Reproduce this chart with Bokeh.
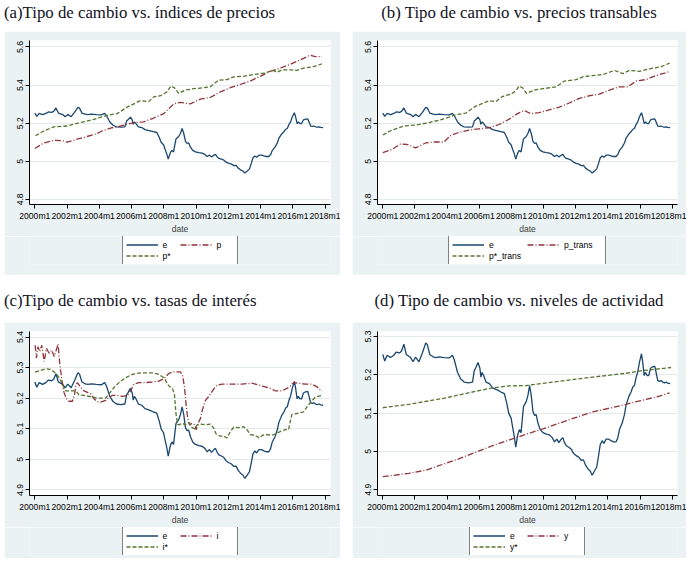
from bokeh.plotting import figure
from bokeh.layouts import column, row
from bokeh.models import Legend, LegendItem, FixedTicker, NumeralTickFormatter, Spacer, Div
from bokeh.embed import file_html
from bokeh.resources import INLINE

# ---------------- data ----------------
x_ticks = [2000, 2002, 2004, 2006, 2008, 2010, 2012, 2014, 2016, 2018]
x_tick_labels = ["2000m1", "2002m1", "2004m1", "2006m1", "2008m1",
                 "2010m1", "2012m1", "2014m1", "2016m1", "2018m1"]

e_dates = [2000.0, 2000.12, 2000.27, 2000.48, 2000.69, 2000.83, 2001.04, 2001.17, 2001.31, 2001.46,
           2001.73, 2001.88, 2002.04, 2002.25, 2002.46, 2002.67, 2002.77, 2002.92, 2003.13, 2003.29,
           2003.5, 2003.81, 2004.13, 2004.33, 2004.44, 2004.65, 2004.85, 2005.06, 2005.33, 2005.58,
           2005.69, 2005.79, 2005.92, 2006.04, 2006.10, 2006.17, 2006.27, 2006.42, 2006.63, 2006.83,
           2007.15, 2007.35, 2007.56, 2007.71, 2007.83, 2007.98, 2008.08, 2008.19, 2008.27, 2008.40,
           2008.50, 2008.60, 2008.75, 2008.92, 2009.03, 2009.13, 2009.23, 2009.34, 2009.44, 2009.54,
           2009.65, 2009.79, 2009.96, 2010.17, 2010.37, 2010.54, 2010.68, 2010.83, 2010.95, 2011.10,
           2011.20, 2011.30, 2011.41, 2011.57, 2011.72, 2011.86, 2012.03, 2012.19, 2012.34, 2012.48,
           2012.61, 2012.75, 2012.90, 2013.02, 2013.17, 2013.31, 2013.44, 2013.52, 2013.64, 2013.75,
           2013.89, 2014.06, 2014.20, 2014.35, 2014.51, 2014.62, 2014.72, 2014.89, 2015.03, 2015.13,
           2015.30, 2015.44, 2015.55, 2015.65, 2015.76, 2015.86, 2015.96, 2016.09, 2016.17, 2016.26,
           2016.34, 2016.44, 2016.54, 2016.65, 2016.79, 2016.92, 2017.00, 2017.10, 2017.20, 2017.31,
           2017.41, 2017.52, 2017.62, 2017.72, 2017.87]
e_values = [5.253, 5.236, 5.251, 5.245, 5.251, 5.259, 5.257, 5.262, 5.280, 5.253,
            5.245, 5.234, 5.246, 5.234, 5.257, 5.283, 5.279, 5.253, 5.247, 5.245,
            5.247, 5.245, 5.244, 5.251, 5.240, 5.206, 5.189, 5.181, 5.179, 5.181,
            5.211, 5.219, 5.232, 5.217, 5.194, 5.206, 5.198, 5.181, 5.177, 5.166,
            5.160, 5.155, 5.151, 5.126, 5.100, 5.087, 5.062, 5.036, 5.011, 5.045,
            5.057, 5.049, 5.117, 5.130, 5.147, 5.172, 5.147, 5.104, 5.094, 5.096,
            5.074, 5.057, 5.049, 5.045, 5.043, 5.036, 5.025, 5.032, 5.023, 5.032,
            5.036, 5.023, 5.015, 5.011, 5.006, 4.995, 4.989, 4.985, 4.977, 4.978,
            4.964, 4.955, 4.949, 4.938, 4.949, 4.960, 4.994, 5.017, 5.028, 5.021,
            5.032, 5.032, 5.028, 5.025, 5.025, 5.036, 5.057, 5.074, 5.096, 5.121,
            5.143, 5.155, 5.168, 5.172, 5.194, 5.208, 5.232, 5.255, 5.232, 5.198,
            5.206, 5.198, 5.198, 5.217, 5.221, 5.222, 5.206, 5.185, 5.183, 5.185,
            5.181, 5.179, 5.181, 5.178, 5.177]

p_dates = [2000.0, 2000.56, 2001.18, 2001.69, 2002.0, 2002.62, 2003.24, 2003.76, 2004.17, 2004.79,
           2005.1, 2006.13, 2006.75, 2007.37, 2007.99, 2008.61, 2009.02, 2009.64, 2010.26, 2010.88,
           2011.5, 2012.12, 2012.73, 2013.35, 2013.97, 2014.59, 2015.21, 2015.83, 2016.45, 2017.07,
           2017.38, 2017.79]
p_values = [5.067, 5.096, 5.110, 5.108, 5.100, 5.116, 5.130, 5.142, 5.159, 5.176,
            5.181, 5.203, 5.207, 5.227, 5.250, 5.301, 5.309, 5.301, 5.326, 5.335,
            5.364, 5.386, 5.403, 5.421, 5.446, 5.472, 5.489, 5.509, 5.532, 5.557,
            5.549, 5.549]

pstar_dates = [2000.04, 2000.56, 2001.18, 2002.0, 2002.83, 2003.65, 2004.48, 2005.1, 2005.72, 2006.54,
               2007.06, 2007.37, 2007.78, 2008.19, 2008.44, 2008.65, 2008.92, 2009.33, 2009.85, 2010.46,
               2010.88, 2011.39, 2011.91, 2012.32, 2012.94, 2013.56, 2014.18, 2014.80, 2015.0, 2015.31,
               2015.83, 2016.24, 2016.66, 2017.28, 2017.79]
pstar_values = [5.134, 5.159, 5.181, 5.185, 5.203, 5.220, 5.241, 5.250, 5.284, 5.318,
                5.313, 5.338, 5.344, 5.364, 5.395, 5.386, 5.356, 5.374, 5.381, 5.386,
                5.391, 5.426, 5.429, 5.443, 5.446, 5.455, 5.463, 5.477, 5.467, 5.480,
                5.480, 5.477, 5.489, 5.497, 5.511]

ptrans_dates = [2000.0, 2000.58, 2001.10, 2001.52, 2002.04, 2002.66, 2003.18, 2003.80, 2004.22, 2004.74,
                2005.36, 2005.99, 2006.61, 2007.23, 2007.86, 2008.38, 2008.79, 2009.21, 2009.73, 2010.35,
                2010.98, 2011.6, 2012.22, 2012.85, 2013.47, 2014.1, 2014.72, 2015.24, 2015.76, 2016.38,
                2017.0, 2017.53, 2017.88]
ptrans_values = [5.045, 5.062, 5.091, 5.088, 5.070, 5.096, 5.101, 5.101, 5.135, 5.152,
                 5.164, 5.170, 5.176, 5.193, 5.221, 5.250, 5.267, 5.250, 5.255, 5.270,
                 5.284, 5.306, 5.330, 5.344, 5.352, 5.374, 5.391, 5.391, 5.421, 5.429,
                 5.450, 5.463, 5.472]

pstartrans_dates = [2000.0, 2000.58, 2001.31, 2002.04, 2002.87, 2003.70, 2004.53, 2005.16, 2005.78, 2006.61,
                    2007.03, 2007.44, 2007.96, 2008.27, 2008.48, 2008.69, 2008.94, 2009.42, 2009.94, 2010.77,
                    2011.29, 2012.02, 2012.43, 2013.06, 2013.68, 2014.41, 2014.93, 2015.34, 2015.97, 2016.59,
                    2017.32, 2017.84]
pstartrans_values = [5.138, 5.164, 5.185, 5.190, 5.203, 5.220, 5.244, 5.253, 5.289, 5.318,
                     5.313, 5.340, 5.352, 5.369, 5.395, 5.386, 5.356, 5.374, 5.381, 5.390,
                     5.421, 5.429, 5.443, 5.450, 5.455, 5.477, 5.460, 5.477, 5.472, 5.485,
                     5.497, 5.515]

i_dates = [2000.02, 2000.10, 2000.19, 2000.31, 2000.43, 2000.58, 2000.72, 2000.89, 2001.05, 2001.20,
           2001.30, 2001.44, 2001.55, 2001.67, 2001.81, 2001.96, 2002.12, 2002.33, 2002.45, 2002.54,
           2002.64, 2002.85, 2003.05, 2003.26, 2003.46, 2003.67, 2003.88, 2004.08, 2004.39, 2004.60,
           2004.80, 2005.11, 2005.42, 2005.73, 2005.94, 2006.14, 2006.45, 2006.87, 2007.28, 2007.69,
           2008.0, 2008.31, 2008.62, 2009.03, 2009.17, 2009.28, 2009.38, 2009.48, 2009.59, 2009.75,
           2009.92, 2010.0, 2010.12, 2010.27, 2010.41, 2010.58, 2010.74, 2010.89, 2011.09, 2011.30,
           2011.61, 2012.23, 2012.84, 2013.46, 2014.08, 2014.6, 2014.91, 2015.32, 2015.73, 2016.04,
           2016.35, 2016.76, 2017.17, 2017.48, 2017.79]
i_values = [5.373, 5.331, 5.368, 5.352, 5.373, 5.320, 5.363, 5.347, 5.357, 5.336,
            5.352, 5.377, 5.310, 5.262, 5.219, 5.198, 5.190, 5.190, 5.209, 5.240,
            5.251, 5.235, 5.224, 5.219, 5.214, 5.198, 5.189, 5.187, 5.193, 5.203,
            5.209, 5.209, 5.206, 5.209, 5.224, 5.246, 5.251, 5.251, 5.253, 5.256,
            5.264, 5.281, 5.286, 5.286, 5.272, 5.235, 5.177, 5.134, 5.113, 5.118,
            5.113, 5.097, 5.118, 5.134, 5.166, 5.193, 5.203, 5.214, 5.230, 5.243,
            5.246, 5.246, 5.246, 5.249, 5.240, 5.232, 5.224, 5.224, 5.235, 5.251,
            5.249, 5.246, 5.246, 5.238, 5.221]

istar_dates = [2000.02, 2000.37, 2000.68, 2000.99, 2001.30, 2001.51, 2001.71, 2001.92, 2002.23, 2002.54,
               2002.74, 2003.05, 2003.46, 2003.88, 2004.39, 2004.60, 2004.91, 2005.22, 2005.63, 2006.04,
               2006.56, 2007.28, 2007.69, 2008.0, 2008.31, 2008.52, 2008.65, 2008.75, 2008.85, 2008.93,
               2009.13, 2009.34, 2009.54, 2009.75, 2009.92, 2010.06, 2010.27, 2010.58, 2010.89, 2011.09,
               2011.24, 2011.50, 2011.71, 2011.92, 2012.12, 2012.33, 2012.64, 2012.95, 2013.15, 2013.36,
               2013.67, 2013.92, 2014.12, 2014.39, 2014.70, 2014.91, 2015.21, 2015.52, 2015.73, 2015.83,
               2015.94, 2016.25, 2016.66, 2016.86, 2017.07, 2017.38, 2017.79]
istar_values = [5.285, 5.291, 5.296, 5.294, 5.281, 5.267, 5.246, 5.224, 5.224, 5.224,
                5.211, 5.209, 5.205, 5.200, 5.200, 5.214, 5.235, 5.251, 5.267, 5.278,
                5.283, 5.283, 5.278, 5.267, 5.240, 5.232, 5.215, 5.150, 5.115, 5.113,
                5.118, 5.113, 5.120, 5.104, 5.100, 5.113, 5.115, 5.113, 5.115, 5.102,
                5.083, 5.076, 5.076, 5.070, 5.091, 5.105, 5.104, 5.107, 5.097, 5.081,
                5.078, 5.070, 5.079, 5.081, 5.079, 5.083, 5.091, 5.097, 5.097, 5.123,
                5.147, 5.150, 5.155, 5.171, 5.185, 5.203, 5.209]

y_dates = [2000.0, 2001.63, 2002.67, 2003.71, 2004.75, 2005.79, 2006.83, 2007.88, 2008.92, 2009.96,
           2011.0, 2012.03, 2013.06, 2014.1, 2015.13, 2016.17, 2017.2, 2017.83]
y_values = [4.934, 4.943, 4.951, 4.966, 4.981, 4.998, 5.015, 5.030, 5.045, 5.059,
            5.074, 5.089, 5.103, 5.113, 5.123, 5.134, 5.144, 5.153]

ystar_dates = [2000.0, 2001.63, 2003.71, 2005.79, 2006.83, 2007.88, 2008.92, 2011.0, 2013.06, 2015.13,
               2016.17, 2017.93]
ystar_values = [5.114, 5.123, 5.138, 5.157, 5.166, 5.171, 5.172, 5.183, 5.194, 5.204,
                5.211, 5.219]

titles = ["(a)Tipo de cambio vs. índices de precios",
          "(b) Tipo de cambio vs. precios transables",
          "(c)Tipo de cambio vs. tasas de interés",
          "(d) Tipo de cambio vs. niveles de actividad"]

yticks_ab = [4.8, 5.0, 5.2, 5.4, 5.6]
yticks_c = [4.9, 5.0, 5.1, 5.2, 5.3, 5.4]
yticks_d = [4.9, 5.0, 5.1, 5.2, 5.3]

# ---------------- style ----------------
NAVY = "#1a476f"
MAROON = "#90353b"
GREEN = "#55752f"
BG = "#eaf2f3"
GRID = "#e2eaec"
SANS = "Liberation Sans"
DASHDOT = "6 2 1 2"
DASH = "4 2"
TICK_FS = "8.6px"
LW = 1.3
STYLES = [(NAVY, "solid"), (MAROON, DASHDOT), (GREEN, DASH)]
X_RANGE = (1999.67, 2018.33)


def title_div(text, w, h, align, top_offset):
    html = ('<div style="font-family:\'Liberation Serif\';font-size:16.8px;line-height:16.8px;'
            'color:#111122;white-space:nowrap;margin:0;padding:0;'
            f'position:relative;top:{top_offset}px;text-align:{align};width:{w}px;">{text}</div>')
    return Div(text=html, width=w, height=h, margin=0)


def panel(w, h, yr, yticks, series, bl, br, bt, bb):
    f = figure(width=w, height=h, x_range=X_RANGE, y_range=yr,
               toolbar_location=None, output_backend="svg",
               background_fill_color="white", border_fill_color=BG,
               outline_line_color=None,
               min_border_left=bl, min_border_right=br, min_border_top=bt, min_border_bottom=bb)
    for (xs, ys), (color, dash) in zip(series, STYLES):
        f.line(xs, ys, line_color=color, line_width=LW, line_dash=dash)
    for ax in (f.xaxis[0], f.yaxis[0]):
        ax.axis_line_color = "black"
        ax.major_tick_line_color = "black"
        ax.major_tick_out = 4
        ax.major_tick_in = 0
        ax.minor_tick_line_color = None
        ax.major_label_text_font = SANS
        ax.major_label_text_font_size = TICK_FS
        ax.major_label_text_color = "black"
        ax.major_label_standoff = 2
    f.xaxis[0].ticker = FixedTicker(ticks=x_ticks)
    f.xaxis[0].major_label_overrides = {t: lab for t, lab in zip(x_ticks, x_tick_labels)}
    f.xaxis[0].axis_label = "date"
    f.xaxis[0].axis_label_text_font = SANS
    f.xaxis[0].axis_label_text_font_size = TICK_FS
    f.xaxis[0].axis_label_text_font_style = "normal"
    f.xaxis[0].axis_label_standoff = 0
    f.yaxis[0].ticker = FixedTicker(ticks=yticks)
    f.yaxis[0].formatter = NumeralTickFormatter(format="0.[0]")
    f.yaxis[0].major_label_orientation = "vertical"
    f.xgrid.visible = False
    f.ygrid.grid_line_color = GRID
    f.ygrid.grid_line_width = 1
    return f


def legend_fig(w, h, series, labels, bl, br, bt, bb, lab_w):
    # the same series, drawn outside this strip's visible y-range, feed the legend
    f = figure(width=w, height=h, x_range=X_RANGE, y_range=(0, 1),
               x_axis_location=None, y_axis_location=None,
               toolbar_location=None, output_backend="svg",
               background_fill_color=BG, border_fill_color=BG, outline_line_color=None,
               min_border_left=bl, min_border_right=br, min_border_top=bt, min_border_bottom=bb)
    f.xgrid.visible = False
    f.ygrid.visible = False
    items = []
    for (xs, ys), lab, (color, dash) in zip(series, labels, STYLES):
        r = f.line(xs, ys, line_color=color, line_width=LW, line_dash=dash)
        items.append(LegendItem(label=lab, renderers=[r]))
    leg = Legend(items=items, location="center", orientation="horizontal", ncols=2,
                 border_line_color="black", border_line_width=1,
                 background_fill_color="white", background_fill_alpha=1.0,
                 label_text_font=SANS, label_text_font_size=TICK_FS,
                 label_text_color="black",
                 glyph_width=32, glyph_height=9, label_height=11, label_width=lab_w,
                 label_standoff=5, spacing=0, padding=3, margin=0)
    f.add_layout(leg, "center")
    return f


series_a = [(e_dates, e_values), (p_dates, p_values), (pstar_dates, pstar_values)]
series_b = [(e_dates, e_values), (ptrans_dates, ptrans_values), (pstartrans_dates, pstartrans_values)]
series_c = [(e_dates, e_values), (i_dates, i_values), (istar_dates, istar_values)]
series_d = [(e_dates, e_values), (y_dates, y_values), (ystar_dates, ystar_values)]

pa = panel(336, 205, (4.773, 5.634), yticks_ab, series_a, 25, 10, 9, 28)
pb = panel(334, 205, (4.773, 5.634), yticks_ab, series_b, 25, 9, 9, 28)
pc = panel(336, 205, (4.882, 5.418), yticks_c, series_c, 25, 10, 9, 28)
pd_ = panel(334, 205, (4.885, 5.313), yticks_d, series_d, 25, 9, 9, 28)

la = legend_fig(336, 39, series_a, ["e", "p", "p*"], 25, 10, 0, 11, 17)
lb = legend_fig(334, 39, series_b, ["e", "p_trans", "p*_trans"], 25, 9, 0, 11, 38)
lc = legend_fig(336, 31, series_c, ["e", "i", "i*"], 25, 10, 0, 3, 17)
ld = legend_fig(334, 31, series_d, ["e", "y", "y*"], 25, 9, 0, 3, 17)

ta = title_div(titles[0], 336, 31, "left", 5)
tb = title_div(titles[1], 334, 31, "center", 5)
tc = title_div(titles[2], 336, 47, "left", 18)
td = title_div(titles[3], 334, 47, "center", 18)

layout = column(
    row(Spacer(width=4, height=10), column(ta, pa, la), Spacer(width=12, height=10), column(tb, pb, lb)),
    row(Spacer(width=4, height=10), column(tc, pc, lc), Spacer(width=12, height=10), column(td, pd_, ld)),
)

open("out.html", "w").write(file_html(layout, INLINE))
